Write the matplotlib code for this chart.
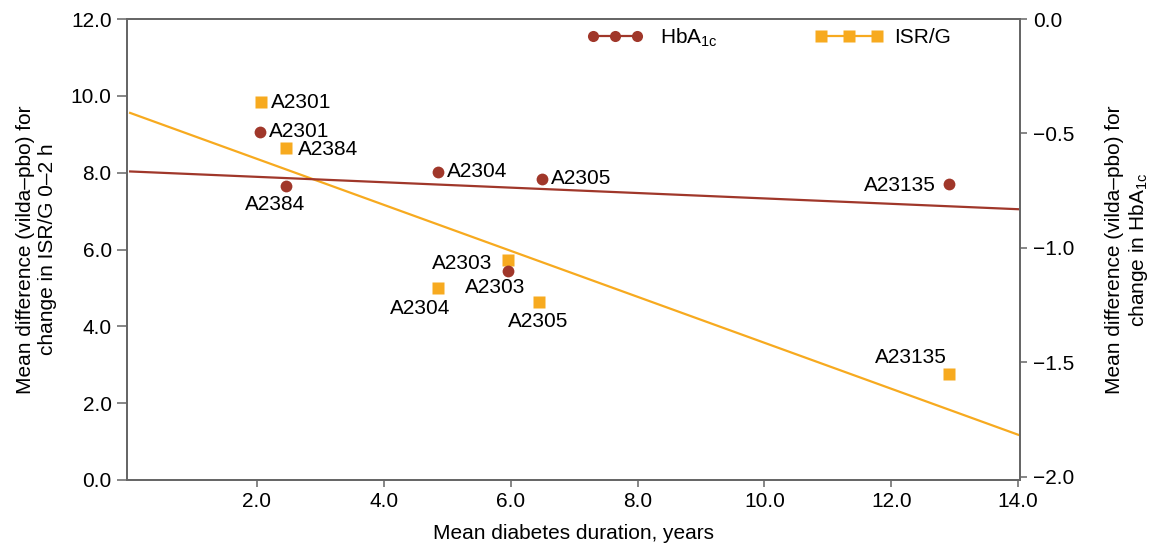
import numpy as np
import matplotlib
matplotlib.use("Agg")
import matplotlib.pyplot as plt
from matplotlib.lines import Line2D

plt.rcParams['font.family'] = ['Liberation Sans', 'DejaVu Sans']
plt.rcParams['mathtext.fontset'] = 'custom'
plt.rcParams['mathtext.rm'] = 'Liberation Sans'

# Data
studies_isr = ["A2301", "A2384", "A2304", "A2303", "A2305", "A23135"]
dur_isr = [2.06, 2.45, 4.85, 5.95, 6.45, 12.91]
isr_vals = [9.83, 8.64, 4.99, 5.74, 4.63, 2.76]

studies_hba = ["A2301", "A2384", "A2304", "A2303", "A2305", "A23135"]
dur_hba = [2.04, 2.45, 4.85, 5.95, 6.49, 12.91]
hba_vals = [-0.493, -0.728, -0.668, -1.101, -0.697, -0.719]

xticks = [2.0, 4.0, 6.0, 8.0, 10.0, 12.0, 14.0]
left_ticks = [0.0, 2.0, 4.0, 6.0, 8.0, 10.0, 12.0]
right_ticks = [0.0, -0.5, -1.0, -1.5, -2.0]

RED = '#A0372A'
ORANGE = '#F7AA1F'
SPINE = '#666666'

fig = plt.figure(figsize=(11.51, 5.46), dpi=100)
ax = fig.add_axes([0.1103, 0.121, 0.776, 0.844])
ax2 = ax.twinx()

# trend lines (least squares on data)
xs = np.array([0.0, 14.0])
p_isr = np.polyfit(dur_isr, isr_vals, 1)
p_hba = np.polyfit(dur_hba, hba_vals, 1)
ax.plot(xs, np.polyval(p_isr, xs), color=ORANGE, lw=1.6, zorder=2)
ax2.plot(xs, np.polyval(p_hba, xs), color=RED, lw=1.6, zorder=2)

ax.plot(dur_isr, isr_vals, 's', color=ORANGE, ms=8, mec='none', zorder=3)
ax2.plot(dur_hba, hba_vals, 'o', color=RED, ms=8.5, mec='none', zorder=3)

fs = 15
# label offsets (points), anchored at text baseline
isr_off = {
    "A2301": ((7.2, -3.7), 'left'),
    "A2384": ((8.6, -4.8), 'left'),
    "A2304": ((-12.7, -18.5), 'center'),
    "A2303": ((-10.8, -6.5), 'right'),
    "A2305": ((-0.9, -18.2), 'center'),
    "A23135": ((-1.7, 7.8), 'right'),
}
for s, x, y in zip(studies_isr, dur_isr, isr_vals):
    off, ha = isr_off[s]
    ax.annotate(s, (x, y), xytext=off, textcoords='offset points',
                ha=ha, va='baseline', fontsize=fs, zorder=4)

hba_off = {
    "A2301": ((7.0, -3.4), 'left'),
    "A2384": ((-7.2, -17.8), 'center'),
    "A2304": ((6.7, -3.6), 'left'),
    "A2303": ((-8.9, -15.6), 'center'),
    "A2305": ((6.5, -3.6), 'left'),
    "A23135": ((-9.9, -5.5), 'right'),
}
for s, x, y in zip(studies_hba, dur_hba, hba_vals):
    off, ha = hba_off[s]
    ax2.annotate(s, (x, y), xytext=off, textcoords='offset points',
                 ha=ha, va='baseline', fontsize=fs, zorder=4)

ax.set_xlim(-0.05, 14.03)
ax.set_ylim(0, 12.0)
ax2.set_ylim(-2.015, 0.0)

ax.set_xticks(xticks)
ax.set_xticklabels([f"{v:.1f}" for v in xticks])
ax.set_yticks(left_ticks)
ax.set_yticklabels([f"{v:.1f}" for v in left_ticks])
ax2.set_yticks(right_ticks)
ax2.set_yticklabels([f"{v:.1f}".replace('-', '\u2212') for v in right_ticks])

for a in (ax, ax2):
    for sp in a.spines.values():
        sp.set_color(SPINE)
        sp.set_linewidth(1.3)
ax.tick_params(axis='x', colors=SPINE, labelcolor='black', labelsize=fs,
               length=5, width=1.1, pad=4)
ax.tick_params(axis='y', colors=SPINE, labelcolor='black', labelsize=fs,
               length=7, width=1.1, pad=4)
ax2.tick_params(axis='y', colors=SPINE, labelcolor='black', labelsize=fs,
                length=5, width=1.1, pad=4)

ax.set_xlabel("Mean diabetes duration, years", fontsize=fs, labelpad=9)
ax.set_ylabel("Mean difference (vilda\u2013pbo) for\nchange in ISR/G 0\u20132 h",
              fontsize=fs, labelpad=10, linespacing=1.2)
ax2.set_ylabel("Mean difference (vilda\u2013pbo) for\nchange in HbA$_\\mathregular{1c}$",
               fontsize=fs, rotation=90, labelpad=22, linespacing=1.2)

h1 = Line2D([], [], color=RED, marker='o', ms=8, mec='none', lw=1.6)
h2 = Line2D([], [], color=ORANGE, marker='s', ms=8, mec='none', lw=1.6)
leg1 = ax2.legend([h1], ["HbA$_\\mathregular{1c}$"], loc='center left',
                  bbox_to_anchor=(0.515, 0.96), frameon=False, numpoints=3,
                  handlelength=2.7, handletextpad=0.8, fontsize=fs,
                  borderpad=0, borderaxespad=0)
ax2.add_artist(leg1)
ax2.legend([h2], ["ISR/G"], loc='center left',
           bbox_to_anchor=(0.770, 0.96), frameon=False, numpoints=3,
           handlelength=3.3, handletextpad=0.5, fontsize=fs,
           borderpad=0, borderaxespad=0)

fig.savefig("out.png", dpi=100)
